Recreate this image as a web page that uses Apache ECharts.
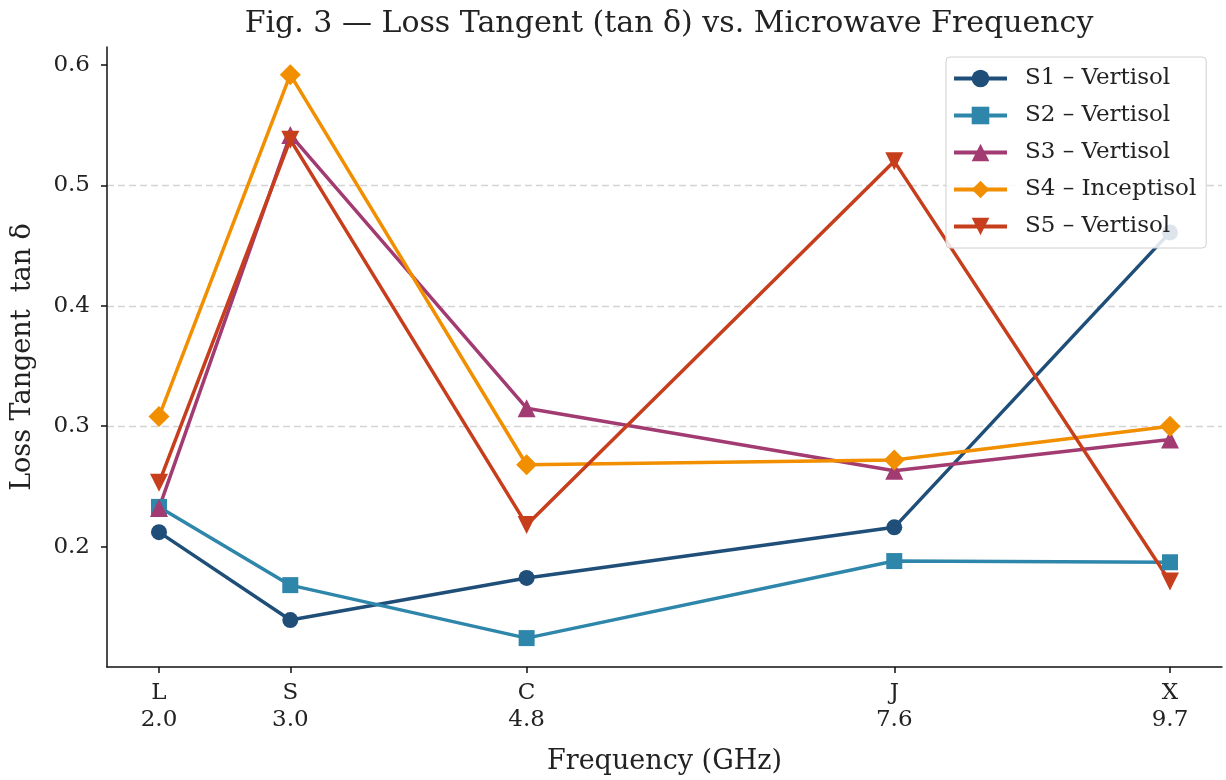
<!DOCTYPE html>
<html>
<head>
<meta charset="utf-8">
<script src="https://cdn.jsdelivr.net/npm/echarts@6/dist/echarts.min.js"></script>
<style>html,body{margin:0;padding:0;background:#fff}#chart{width:1226px;height:780px}</style>
</head>
<body>
<div id="chart"></div>
<script>
const bands = ['L', 'S', 'C', 'J', 'X'];
const freqs = [2.0, 3.0, 4.8, 7.6, 9.7];
const seriesNames = ['S1 – Vertisol', 'S2 – Vertisol', 'S3 – Vertisol', 'S4 – Inceptisol', 'S5 – Vertisol'];
const s1 = [0.212, 0.139, 0.174, 0.216, 0.461];
const s2 = [0.233, 0.168, 0.124, 0.188, 0.187];
const s3 = [0.232, 0.542, 0.315, 0.263, 0.289];
const s4 = [0.308, 0.592, 0.268, 0.272, 0.300];
const s5 = [0.253, 0.538, 0.218, 0.520, 0.171];
const yTicks = [0.2, 0.3, 0.4, 0.5, 0.6];

const colors = ['#1f4e79', '#2e86ab', '#a23b72', '#f18f01', '#c73e1d'];
const symbols = ['circle', 'rect', 'triangle', 'diamond', 'path://M-1,-1L1,-1L0,1Z'];
const sizes = [16, 16, 18, 21, 18];
const allData = [s1, s2, s3, s4, s5];
const font = 'DejaVu Serif';

const chart = echarts.init(document.getElementById('chart'), null, {renderer: 'canvas'});
chart.setOption({
  animation: false,
  backgroundColor: '#fff',
  title: {
    text: 'Fig. 3 — Loss Tangent (tan δ) vs. Microwave Frequency',
    left: 664, top: 4, textAlign: 'center',
    textStyle: {fontFamily: font, fontSize: 30, fontWeight: 'normal', color: '#222'}
  },
  legend: {
    left: 946, top: 57,
    orient: 'vertical',
    padding: [10, 10, 10, 6],
    itemWidth: 53, itemHeight: 22, itemGap: 14,
    backgroundColor: 'rgba(255,255,255,0.85)',
    borderColor: '#d0d0d0', borderWidth: 1, borderRadius: 4,
    lineStyle: {width: 4},
    textStyle: {fontFamily: font, fontSize: 23, color: '#222', padding: [0, 0, 0, 13]},
    data: seriesNames,
    z: 10
  },
  grid: {left: 107, right: 4, top: 47, bottom: 110},
  xAxis: {
    type: 'value', min: 1.604, max: 10.096,
    name: 'Frequency (GHz)', nameLocation: 'middle', nameGap: 81,
    nameTextStyle: {fontFamily: font, fontSize: 27, color: '#222'},
    axisLine: {show: true, lineStyle: {color: '#111', width: 1.5}},
    axisTick: {show: true, length: 6, customValues: freqs, lineStyle: {color: '#111', width: 1.5}},
    axisLabel: {
      customValues: freqs, margin: 13,
      fontFamily: font, fontSize: 23, color: '#222', lineHeight: 27,
      formatter: v => { const i = freqs.findIndex(f => Math.abs(f - v) < 1e-6); return i >= 0 ? bands[i] + '\n' + freqs[i].toFixed(1) : ''; }
    },
    splitLine: {show: false}
  },
  yAxis: {
    type: 'value', min: 0.1, max: 0.615, interval: 0.1,
    name: 'Loss Tangent  tan δ', nameLocation: 'middle', nameGap: 71,
    nameTextStyle: {fontFamily: font, fontSize: 27, color: '#222'},
    axisLine: {show: true, lineStyle: {color: '#111', width: 1.5}},
    axisTick: {show: true, length: 6, customValues: yTicks, lineStyle: {color: '#111', width: 1.5}},
    axisLabel: {customValues: yTicks, margin: 17, fontFamily: font, fontSize: 23, color: '#222', formatter: v => v.toFixed(1)},
    splitLine: {show: true, showMinLine: false, showMaxLine: false, lineStyle: {color: '#d4d4d4', type: [7, 4], width: 1.3}}
  },
  series: allData.map((d, i) => ({
    name: seriesNames[i],
    type: 'line',
    data: d.map((v, j) => [freqs[j], v]),
    symbol: symbols[i],
    symbolSize: sizes[i],
    showAllSymbol: true,
    lineStyle: {color: colors[i], width: 3.5},
    itemStyle: {color: colors[i]},
    z: 2
  }))
});
</script>
</body>
</html>
